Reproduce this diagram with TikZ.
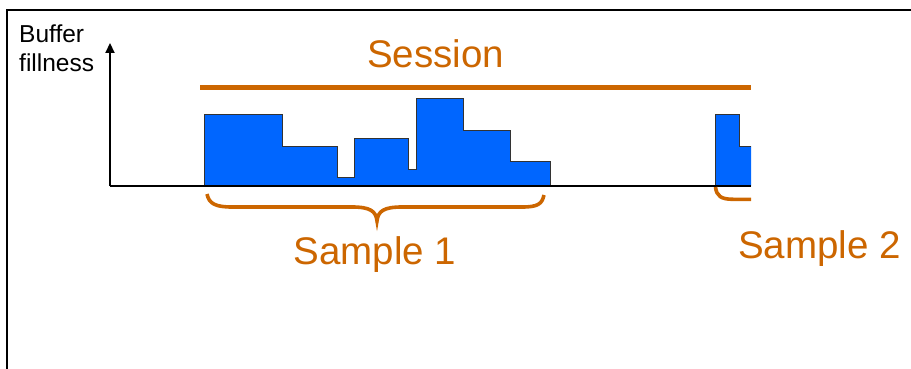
\documentclass[tikz,border=0pt]{standalone}
\usepackage{fontspec}
\setmainfont{Liberation Sans}
\usetikzlibrary{arrows.meta}
\definecolor{orng}{HTML}{CC6600}
\definecolor{bblue}{HTML}{0066FF}
\begin{document}
\begin{tikzpicture}[x=1pt,y=-1pt,
  bar/.style={fill=bblue,draw=black!80,line width=0.9pt,line join=miter},
  brace/.style={draw=orng,line width=3.6pt},
  lbl/.style={text=orng,font=\fontsize{38.5}{46}\selectfont,inner sep=0pt},
  axis/.style={draw=black,line width=2.2pt}]
\useasboundingbox (0,0) rectangle (911,369);
% frame
\draw[line width=2pt] (7,380) -- (7,10.5) -- (920,10.5);
% bars sample 1
\draw[bar] (204.3,186) -- (204.3,114.3) -- (282.7,114.3) -- (282.7,146) -- (337.7,146)
  -- (337.7,177.3) -- (354,177.3) -- (354,138.3) -- (408.7,138.3) -- (408.7,169.3)
  -- (416.7,169.3) -- (416.7,98.3) -- (463.3,98.3) -- (463.3,130) -- (510.7,130)
  -- (510.7,161.7) -- (550,161.7) -- (550,186) -- cycle;
% bars sample 2
\draw[bar] (751,186) -- (715,186) -- (715,114.3) -- (739,114.3) -- (739,146) -- (751,146);
% axes
\coordinate (origin) at (110,186);
\coordinate (ytop) at (110,43);
\coordinate (xend) at (751,186);
\draw[axis,-{Triangle[length=10pt,width=9pt]}] (origin) -- (ytop);
\draw[axis] (origin) -- (xend);
% session line
\coordinate (s1) at (200,87.5);
\coordinate (s2) at (751,87.5);
\draw[draw=orng,line width=5pt] (s1) -- (s2);
\node[lbl,anchor=base] (session) at (435.5,67.5) {Session};
% brace 1
\draw[brace] (207,194) .. controls (209,204) and (216,207) .. (232,207) -- (352,207)
  .. controls (370,207) and (376,211) .. (377,221) .. controls (378,211) and (384,207) .. (402,207)
  -- (522,207) .. controls (538,207) and (542,204) .. (544,195);
\node[lbl,anchor=base] (sample1) at (375,264) {Sample 1};
% brace 2
\draw[brace] (715.5,187) .. controls (716.5,196) and (721,199.3) .. (733,199.3) -- (751,199.3);
\node[lbl,anchor=base west] (sample2) at (738,258) {Sample 2};
% y label
\node[anchor=base west,inner sep=0pt,font=\fontsize{24.5}{29}\selectfont] (ylab1) at (19,43) {Buffer};
\node[anchor=base west,inner sep=0pt,font=\fontsize{24.5}{29}\selectfont] (ylab2) at (19,72) {fillness};
\end{tikzpicture}
\end{document}
